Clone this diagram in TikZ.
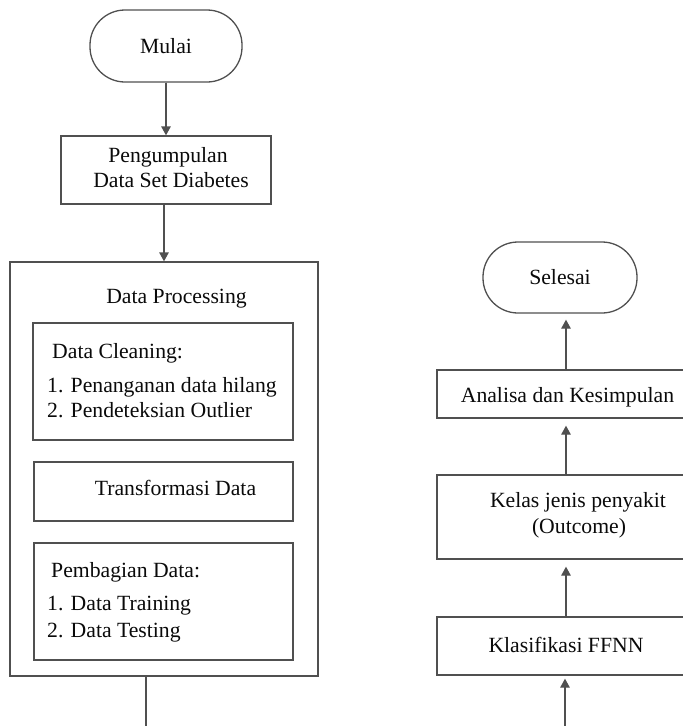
\documentclass[tikz,border=0pt]{standalone}
\usepackage{fontspec}
\setmainfont{Liberation Serif}
\usetikzlibrary{arrows.meta}
\definecolor{lc}{RGB}{80,80,80}
\definecolor{tc}{RGB}{10,10,10}
\begin{document}
\begin{tikzpicture}[x=1pt,y=-1pt,
  line/.style={draw=lc, line width=1.3pt},
  box/.style={line, rectangle, inner sep=0pt},
  term/.style={line, rectangle, rounded corners=35pt, inner sep=0pt, font=\fontsize{21.7}{25}\selectfont, text=tc},
  txt/.style={font=\fontsize{21.7}{25}\selectfont, text=tc, inner sep=0pt},
  arr/.style={line, -{Triangle[width=9.5pt,length=9pt]}, fill=tc},
]
\useasboundingbox (0,0) rectangle (683,726);
\clip (0,0) rectangle (683,726);

% left column
\node[term, minimum width=152pt, minimum height=72pt] (mulai) at (166,46) {Mulai};
\node[box, minimum width=210pt, minimum height=68pt] (peng) at (166,170) {};
\node[txt, anchor=base] (pengA) at (168,162) {Pengumpulan};
\node[txt, anchor=base] (pengB) at (171,187) {Data Set Diabetes};

\node[box, minimum width=308pt, minimum height=414pt] (outer) at (164,469) {};
\node[txt, anchor=base] (dptitle) at (176.5,303) {Data Processing};

\node[box, minimum width=260pt, minimum height=117pt] (clean) at (163,381.5) {};
\node[txt, anchor=base west] (cleanA) at (52,358) {Data Cleaning:};
\node[txt, anchor=base west] (cleanB) at (47,392) {1. Penanganan data hilang};
\node[txt, anchor=base west] (cleanC) at (47,417) {2. Pendeteksian Outlier};

\node[box, minimum width=259pt, minimum height=59pt] (trans) at (163.5,491.5) {};
\node[txt, anchor=base] (transA) at (175.5,495) {Transformasi Data};

\node[box, minimum width=259pt, minimum height=117pt] (pemb) at (163.5,601.5) {};
\node[txt, anchor=base west] (pembA) at (51,577) {Pembagian Data:};
\node[txt, anchor=base west] (pembB) at (47,610) {1. Data Training};
\node[txt, anchor=base west] (pembC) at (47,637) {2. Data Testing};

\coordinate (colA) at (166,0);
\coordinate (colB) at (164,0);
\coordinate (endL) at (146,740);

\draw[arr] (mulai.south -| colA) -- (peng.north -| colA);
\draw[arr] (peng.south -| colB) -- (outer.north -| colB);
\draw[line] (outer.south -| endL) -- (endL);

% right column
\node[term, minimum width=154pt, minimum height=71pt] (selesai) at (560,277.5) {Selesai};
\node[box, minimum width=283pt, minimum height=48pt] (analisa) at (578.5,394) {};
\node[txt, anchor=base] (analisaA) at (567.5,402) {Analisa dan Kesimpulan};
\node[box, minimum width=283pt, minimum height=84pt] (kelas) at (578.5,517) {};
\node[txt, anchor=base] (kelasA) at (578,507) {Kelas jenis penyakit};
\node[txt, anchor=base] (kelasB) at (579,533) {(Outcome)};
\node[box, minimum width=283pt, minimum height=58pt] (klas) at (578.5,646) {};
\node[txt, anchor=base] (klasA) at (566,652) {Klasifikasi FFNN};

\coordinate (colR) at (566,0);
\coordinate (endR) at (565,740);

\draw[arr, shorten >=6pt] (analisa.north -| colR) -- (selesai.south -| colR);
\draw[arr, shorten >=7pt] (kelas.north -| colR) -- (analisa.south -| colR);
\draw[arr, shorten >=7pt] (klas.north -| colR) -- (kelas.south -| colR);
\draw[arr, shorten >=3pt] (endR) -- (klas.south -| endR);
\end{tikzpicture}
\end{document}
